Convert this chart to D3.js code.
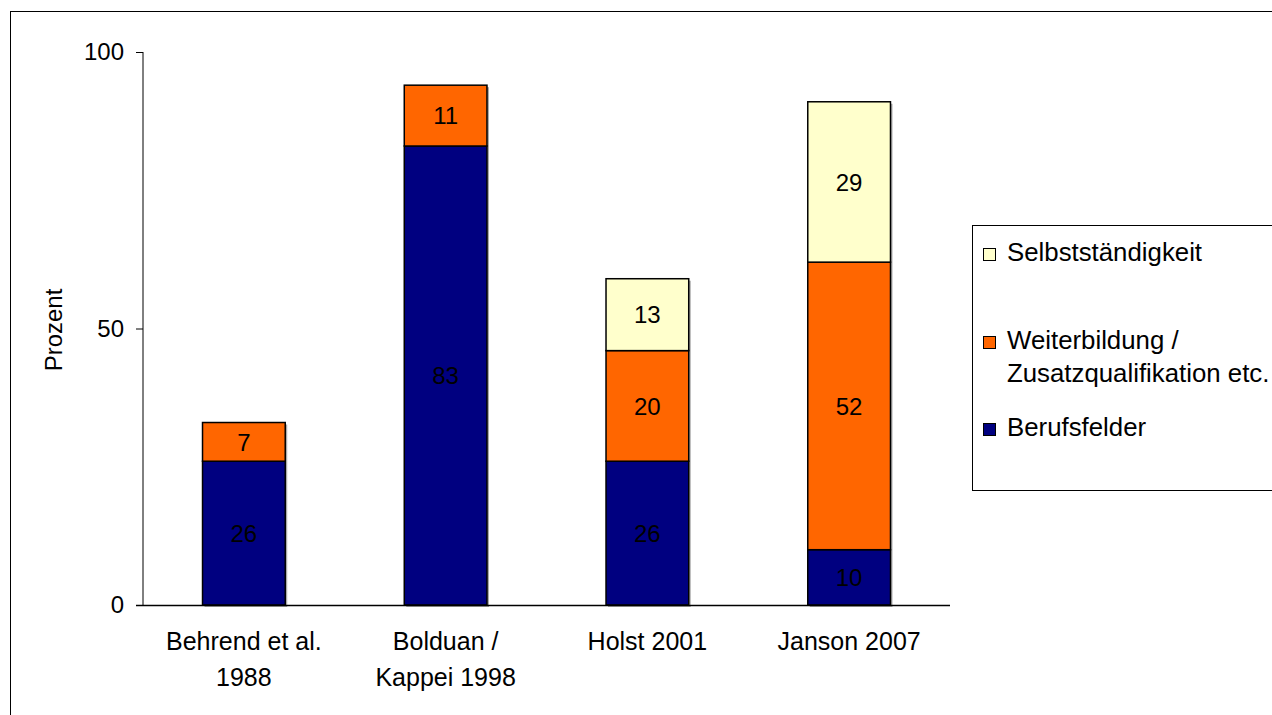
<!DOCTYPE html>
<html>
<head>
<meta charset="utf-8">
<script src="https://cdn.jsdelivr.net/npm/d3@7"></script>
<style>
  body { margin: 0; background: #fff; }
  text { font-family: "Liberation Sans", Arial, sans-serif; fill: #000; }
</style>
</head>
<body>
<div id="canvas"></div>
<script>
// chart data
var studies = [["Behrend et al.", "1988"], ["Bolduan /", "Kappei 1998"], ["Holst 2001"], ["Janson 2007"]];
var berufsfelder = [26, 83, 26, 10];
var weiterbildung = [7, 11, 20, 52];
var selbststaendigkeit = [0, 0, 13, 29];
var seriesNames = ["Berufsfelder", "Weiterbildung /\nZusatzqualifikation etc.", "Selbstständigkeit"];
var seriesColors = ["#000080", "#ff6600", "#ffffcc"];
var yTicks = [0, 50, 100];

var width = 1272, height = 715;

var svg = d3.select("#canvas")
    .append("svg")
    .attr("width", width)
    .attr("height", height);

// outer frame of the chart
svg.append("rect")
    .attr("x", 10.5).attr("y", 11.5)
    .attr("width", 1300).attr("height", 800)
    .attr("fill", "#fff")
    .attr("stroke", "#000")
    .attr("stroke-width", 1);

var x = d3.scaleBand()
    .domain(d3.range(studies.length))
    .range([143, 950]);

var y = d3.scaleLinear()
    .domain([0, 100])
    .range([605, 52]);

var barWidth = x.bandwidth() * 0.41;

// stack the three series
var rows = studies.map(function(d, i) {
    return {i: i, s0: berufsfelder[i], s1: weiterbildung[i], s2: selbststaendigkeit[i]};
});
var stack = d3.stack().keys(["s0", "s1", "s2"]);
var layers = stack(rows);

// bar shadows
rows.forEach(function(d, i) {
    var total = d.s0 + d.s1 + d.s2;
    svg.append("rect")
        .attr("x", x(i) + (x.bandwidth() - barWidth) / 2 + 2)
        .attr("y", y(total) + 2)
        .attr("width", barWidth)
        .attr("height", y(0) - y(total))
        .attr("fill", "#aaa");
});

layers.forEach(function(layer, k) {
    layer.forEach(function(seg, i) {
        if (seg[1] - seg[0] <= 0) return;
        var bx = x(i) + (x.bandwidth() - barWidth) / 2;
        svg.append("rect")
            .attr("x", bx)
            .attr("y", y(seg[1]))
            .attr("width", barWidth)
            .attr("height", y(seg[0]) - y(seg[1]))
            .attr("fill", seriesColors[k])
            .attr("stroke", "#000")
            .attr("stroke-width", 1.5);
        svg.append("text")
            .attr("x", bx + barWidth / 2)
            .attr("y", (y(seg[0]) + y(seg[1])) / 2)
            .attr("dy", "0.36em")
            .attr("text-anchor", "middle")
            .style("font-size", "24px")
            .text(seg[1] - seg[0]);
    });
});

// y axis
var yAxis = svg.append("g")
    .attr("transform", "translate(143,0)")
    .call(d3.axisLeft(y).tickValues(yTicks).tickSize(7).tickPadding(12));
yAxis.selectAll("text").style("font-size", "24px").attr("fill", "#000");
yAxis.selectAll("line").attr("stroke", "#000");
yAxis.select(".domain").attr("stroke", "#000").attr("d", "M0,52V605");

// x axis line
svg.append("line")
    .attr("x1", 136).attr("x2", 950)
    .attr("y1", y(0) + 0.5).attr("y2", y(0) + 0.5)
    .attr("stroke", "#000")
    .attr("stroke-width", 1.5);

// category labels
studies.forEach(function(lines, i) {
    var t = svg.append("text")
        .attr("text-anchor", "middle")
        .style("font-size", "25px");
    lines.forEach(function(l, j) {
        t.append("tspan")
            .attr("x", x(i) + x.bandwidth() / 2)
            .attr("y", 650 + j * 36)
            .text(l);
    });
});

// y title
svg.append("text")
    .attr("transform", "translate(62,330) rotate(-90)")
    .attr("text-anchor", "middle")
    .style("font-size", "24px")
    .text("Prozent");

// legend
svg.append("rect")
    .attr("x", 972.5).attr("y", 225.5)
    .attr("width", 320).attr("height", 265)
    .attr("fill", "#fff")
    .attr("stroke", "#000");

var legendBase = [436, 349, 261];
[2, 1, 0].forEach(function(k) {
    svg.append("rect")
        .attr("x", 983.5).attr("y", legendBase[k] - 12.5)
        .attr("width", 12).attr("height", 12)
        .attr("fill", seriesColors[k])
        .attr("stroke", "#000");
    var t = svg.append("text")
        .style("font-size", "25.8px");
    seriesNames[k].split("\n").forEach(function(l, j) {
        t.append("tspan")
            .attr("x", 1007)
            .attr("y", legendBase[k] + j * 33)
            .text(l);
    });
});
</script>
</body>
</html>
